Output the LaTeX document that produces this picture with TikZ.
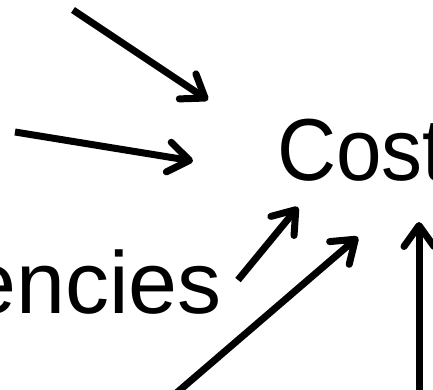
\documentclass[tikz,border=0pt]{standalone}
\usepackage{fontspec}
\usepackage{graphicx}
\setmainfont{Liberation Sans}
\usetikzlibrary{arrows.meta}
\begin{document}
\begin{tikzpicture}[x=1pt,y=-1pt,
  arr/.style={line width=7pt,-{Straight Barb[length=21pt,width=30pt,round]}},
  lbl/.style={anchor=base west,inner sep=0pt,font=\fontsize{88}{100}\selectfont}]
\useasboundingbox (0,0) rectangle (433,390);
\clip (0,0) rectangle (433,390);
\node[lbl] (cost) at (277,180) {\scalebox{0.93}[1]{Cost}};
\node[lbl] (enc) at (-33,313) {encies};
\coordinate (a1s) at (73,10);
\coordinate (a1e) at (208,100);
\coordinate (a2s) at (15,132);
\coordinate (a2e) at (193,161);
\coordinate (a3s) at (238,280);
\coordinate (a3e) at (298,207);
\coordinate (a4s) at (145,420);
\coordinate (a4e) at (358,237);
\coordinate (a5s) at (419,420);
\coordinate (a5e) at (419,222);
\draw[arr] (a1s) -- (a1e);
\draw[arr] (a2s) -- (a2e);
\draw[arr] (a3s) -- (a3e);
\draw[arr] (a4s) -- (a4e);
\draw[arr] (a5s) -- (a5e);
\end{tikzpicture}
\end{document}
